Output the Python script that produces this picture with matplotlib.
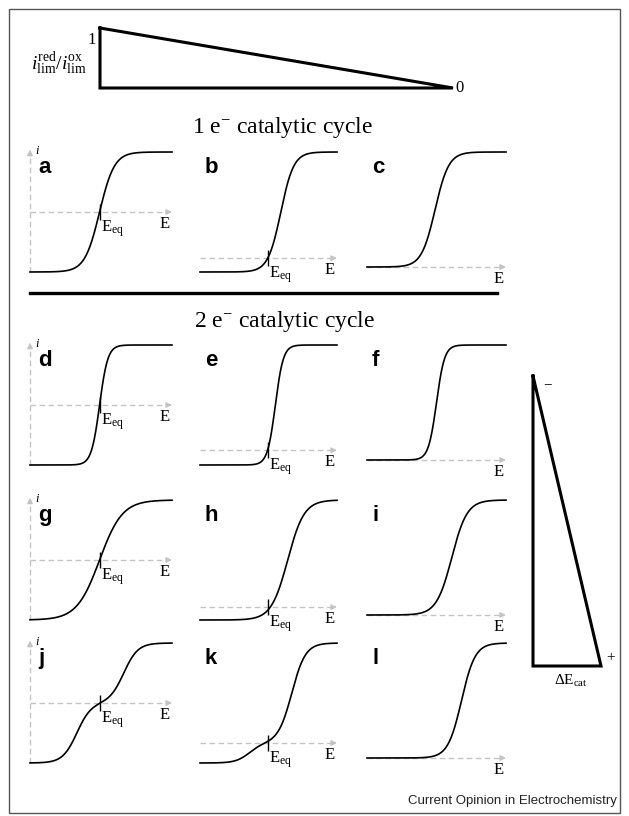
import numpy as np
import matplotlib.pyplot as plt
from matplotlib.patches import Rectangle

plt.rcParams['font.family'] = ['Liberation Serif', 'DejaVu Serif']
plt.rcParams['mathtext.fontset'] = 'custom'
plt.rcParams['mathtext.rm'] = 'Liberation Serif'
plt.rcParams['mathtext.it'] = 'Liberation Serif:italic'
plt.rcParams['mathtext.bf'] = 'Liberation Serif:bold'

W, H = 629, 816

# panel data: reduction limit (relative to oxidation limit = 1), waves
PANELS = list('abcdefghijkl')
RED_LIMIT = [1.0, 0.13, 0.0, 1.0, 0.14, 0.0, 1.0, 0.12, 0.0, 1.0, 0.2, 0.0]
WAVE_POS = [[0.49], [0.59], [0.49],
            [0.49], [0.55], [0.50],
            [0.49], [0.64], [0.61],
            [0.33, 0.66], [0.36, 0.67], [0.68]]
WAVE_SIZE = [[2.0], [1.13], [1.0],
             [2.0], [1.14], [1.0],
             [2.0], [1.12], [1.0],
             [1.0, 1.0], [0.2, 1.0], [1.0]]
WAVE_WIDTH = [0.052, 0.047, 0.049,
              0.029, 0.029, 0.029,
              0.080, 0.060, 0.055,
              0.050, 0.050, 0.049]
E_EQ = [0.493, 0.496, None]   # per column, None = not marked

# layout in pixels
COL_X = [(30, 172), (200, 337), (367, 506)]
ROW_TOP = [152, 345, 500, 643]
LETTER_X = [38, 205, 372]

AX_GRAY = '#c4c4c4'

fig = plt.figure(figsize=(W / 100, H / 100), dpi=100)
bg = fig.add_axes([0, 0, 1, 1])
bg.set_xlim(0, W)
bg.set_ylim(H, 0)
bg.axis('off')


def box(x0, x1, top, bottom):
    return [x0 / W, 1 - bottom / H, (x1 - x0) / W, (bottom - top) / H]


def sig(e, e0, w):
    return 1.0 / (1.0 + np.exp(-(e - e0) / w))


E = np.linspace(0, 1, 400)

for k, name in enumerate(PANELS):
    row, col = divmod(k, 3)
    r = RED_LIMIT[k]
    x0, x1 = COL_X[col]
    top = ROW_TOP[row]
    bottom = top + (120 if r > 0 else 115)
    ax = fig.add_axes(box(x0, x1, top, bottom))
    ax.set_xlim(0, 1)
    ax.set_ylim(-r, 1)
    ax.axis('off')

    i = -r + sum(s * sig(E, p, WAVE_WIDTH[k])
                 for p, s in zip(WAVE_POS[k], WAVE_SIZE[k]))

    # dashed E axis with arrow
    ax.plot([0, 0.97], [0, 0], color=AX_GRAY, lw=1, ls=(0, (4, 2.5)),
            zorder=1, clip_on=False)
    ax.annotate('', xy=(1.0, 0), xytext=(0.96, 0), annotation_clip=False,
                arrowprops=dict(arrowstyle='-|>', color=AX_GRAY, lw=1,
                                mutation_scale=8, shrinkA=0, shrinkB=0))
    ax.annotate('E', xy=(1.0, 0), xytext=(-1.5, -3), textcoords='offset points',
                ha='right', va='top', fontsize=12, annotation_clip=False)

    if col == 0:
        span = 1 + r
        ax.plot([0, 0], [-r, 1 - 0.01 * span], color=AX_GRAY, lw=1,
                ls=(0, (4, 2.5)), zorder=1, clip_on=False)
        ax.annotate('', xy=(0, 1 + 0.02 * span), xytext=(0, 1 - 0.03 * span),
                    annotation_clip=False,
                    arrowprops=dict(arrowstyle='-|>', color=AX_GRAY, lw=1,
                                    mutation_scale=8, shrinkA=0, shrinkB=0))
        bg.text(35, top + 2, 'i', style='italic', fontsize=9, ha='left',
                va='baseline')

    ax.plot(E, i, color='black', lw=1.2, zorder=3, clip_on=False)

    if E_EQ[col] is not None:
        ax.plot([E_EQ[col]], [0], marker='|', ms=12, mew=1, color='black',
                zorder=4, clip_on=False)
        ax.annotate(r'$\mathrm{E_{eq}}$', xy=(E_EQ[col], 0), xytext=(1, -4.5),
                    textcoords='offset points', ha='left', va='top',
                    fontsize=12, annotation_clip=False)

    bg.text(LETTER_X[col], top + 21, name, family=['Liberation Sans'],
            weight='bold', fontsize=16, ha='left', va='baseline')

# top ratio triangle
bg.plot([100, 100, 453, 100], [28, 88, 88, 28], color='black', lw=2.2,
        solid_joinstyle='miter')
bg.text(96, 40, '1', ha='right', va='center', fontsize=12)
bg.text(455, 88, '0', ha='left', va='center', fontsize=12)
bg.text(59, 64, r'$i_{\mathrm{lim}}^{\mathrm{red}}/i_{\mathrm{lim}}^{\mathrm{ox}}$',
        ha='center', va='center', fontsize=14)

# section titles and divider
bg.text(283, 133, '1 e$^{-}$ catalytic cycle', ha='center', va='baseline',
        fontsize=17)
bg.plot([30, 497], [293, 293], color='black', lw=2.4)
bg.text(285, 327, '2 e$^{-}$ catalytic cycle', ha='center', va='baseline',
        fontsize=17)

# dE_cat triangle
bg.plot([533, 533, 601, 533], [376, 666, 666, 376], color='black', lw=2.2,
        solid_joinstyle='miter')
bg.text(548, 385, '\u2212', ha='center', va='center', fontsize=11)
bg.text(611, 658, '+', ha='center', va='center', fontsize=11)
bg.text(571, 681, r'$\Delta\mathrm{E}_{\mathrm{cat}}$', ha='center',
        va='center', fontsize=11)

bg.text(617, 801, 'Current Opinion in Electrochemistry',
        family=['Liberation Sans'], fontsize=9.5, ha='right', va='center',
        color='#222222')

bg.add_patch(Rectangle((9, 9), 611, 804, fill=False, ec='#555555', lw=1))

fig.savefig('out.png', dpi=100)
